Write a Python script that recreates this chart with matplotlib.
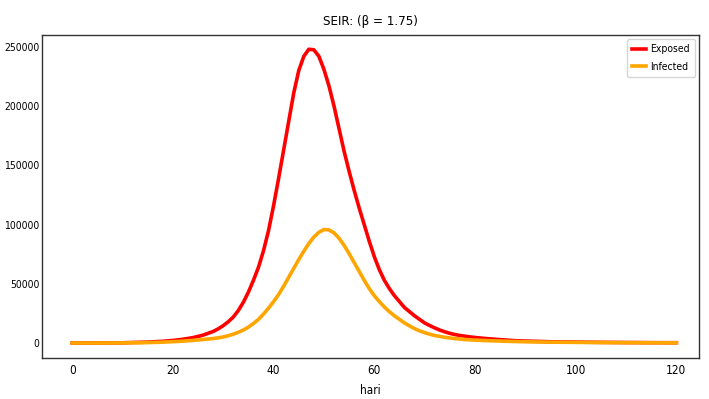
import matplotlib
matplotlib.use('Agg')
from matplotlib import pyplot as plt
from matplotlib import font_manager

# hari (days) and compartment sizes
hari = [0, 5, 10, 15, 18, 20, 22, 24, 26, 28] + list(range(29, 81)) + \
       [82, 85, 88, 90, 95, 100, 105, 110, 115, 120]
exposed = [20, 80, 250, 800, 1500, 2200, 3200, 4600, 6700, 9800,
           12000, 14700, 18000, 22000, 27500, 34500, 43000, 53000, 64000, 78000,
           95000, 116000, 139000, 163000, 187000, 211000, 230000, 242000, 248000,
           247500, 242000, 231000, 217000, 200000, 181000, 162000, 145000, 129000,
           114000, 100000, 86000, 73000, 62000, 53000, 46000, 40000, 35000, 30000,
           26500, 23000, 20000, 17000, 14800, 12800, 11000, 9500, 8200, 7200,
           6400, 5800, 5200, 4700,
           3900, 2900, 2000, 1700, 1100, 800, 600, 450, 350, 300]
infected = [20, 50, 150, 400, 800, 1150, 1650, 2250, 3000, 3800,
            4400, 5200, 6200, 7500, 9100, 11000, 13500, 16500, 20000, 24500,
            29500, 35000, 41000, 48000, 55500, 63000, 70500, 77500, 84000, 89500,
            93500, 95800, 95500, 93000, 88500, 82500, 75500, 68000, 60500, 53000,
            46000, 40000, 35000, 30500, 26500, 23000, 20000, 17000, 14500, 12200,
            10300, 8800, 7500, 6400, 5600, 4900, 4300, 3800, 3400, 3000, 2700, 2500,
            2100, 1700, 1300, 1100, 800, 600, 450, 350, 250, 200]

# narrow look of the original text: use condensed DejaVu if it is there
path = font_manager.findfont(font_manager.FontProperties(family='DejaVu Sans', stretch='condensed'))
cond = 'Condensed' in path
plt.rcParams['font.family'] = ['DejaVu Sans']
if cond:
    plt.rcParams['font.stretch'] = 'condensed'
ysize = 7.5 if cond else 7

fig = plt.figure(figsize=[7.09, 3.99], dpi=100)
ax = fig.add_axes([42/709, 1-358/399, (699-42)/709, (358-35)/399])
ax.plot(hari, exposed, color="red", lw=2.6, label='Exposed')
ax.plot(hari, infected, color="orange", lw=2.6, label='Infected')
ax.set_xlim(-6, 124.5)
ax.set_ylim(-12600, 260000)
ax.set_xticks([0, 20, 40, 60, 80, 100, 120])
ax.set_yticks([0, 50000, 100000, 150000, 200000, 250000])
ax.tick_params(length=0, labelsize=8.5, pad=4)
ax.tick_params(axis='y', labelsize=ysize, pad=2)
for s in ax.spines.values():
    s.set_color('#333333')
    s.set_linewidth(1.0)
ax.set_title('SEIR: (β = 1.75)', fontsize=9.5, pad=7)
ax.set_xlabel('hari', fontsize=8.5, labelpad=5)
ax.legend(loc='upper right', fontsize=7.5, borderaxespad=0.4, handlelength=1.3,
          handletextpad=0.4, borderpad=0.5, labelspacing=0.7)
fig.savefig("out.png", dpi=100)
